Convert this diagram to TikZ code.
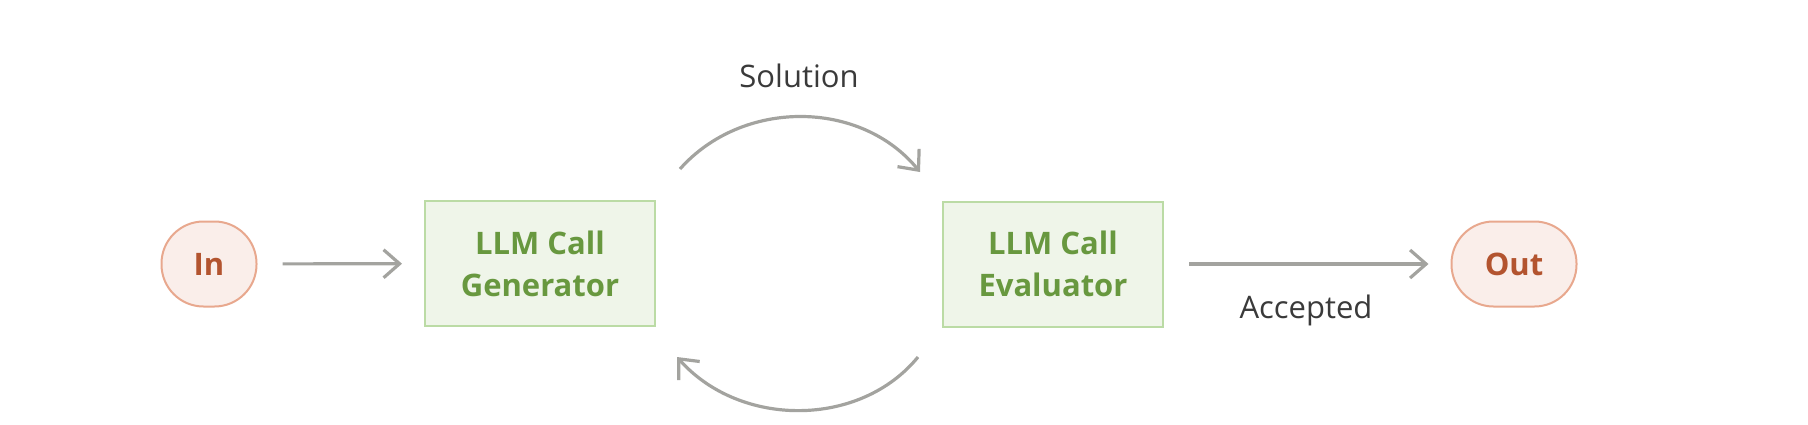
\documentclass[tikz,border=0pt]{standalone}
\usepackage{fontspec}
\setmainfont{Open Sans}
\usetikzlibrary{arrows.meta}

\definecolor{arrowgray}{HTML}{A3A39F}
\definecolor{labeltext}{HTML}{3A3A3A}
\definecolor{termfill}{HTML}{FAEEEA}
\definecolor{termline}{HTML}{E8A88E}
\definecolor{termtext}{HTML}{B3542F}
\definecolor{llmfill}{HTML}{EFF5E9}
\definecolor{llmline}{HTML}{BBDBA5}
\definecolor{llmtext}{HTML}{68983F}

\begin{document}
\begin{tikzpicture}[x=0.5pt,y=-0.5pt,
	term/.style={draw=termline,fill=termfill,text=termtext,line width=1pt,rounded corners=21pt,minimum height=42.5pt,font=\bfseries\fontsize{15.5}{21}\selectfont},
	llm/.style={draw=llmline,fill=llmfill,text=llmtext,line width=1pt,inner xsep=0pt,minimum height=62.5pt,align=center,font=\bfseries\fontsize{15.5}{21}\selectfont},
	flow/.style={draw=arrowgray,line width=1.6pt,-{Straight Barb[length=8pt,width=14pt]}},
	gap/.style={shorten <=12.5pt,shorten >=11pt},
	lbl/.style={text=labeltext,anchor=base,font=\fontsize{15.5}{21}\selectfont}]
	\useasboundingbox (0,0) rectangle (1808,424);
	
	%nodes
	\node[term,minimum width=47.5pt] (in) at (209,264) {In};
	\node[llm,minimum width=115pt] (gen) at (540,263.5) {LLM Call\\Generator};
	\node[llm,minimum width=110pt] (eval) at (1053,264) {LLM Call\\Evaluator};
	\node[term,minimum width=62.5pt] (out) at (1514,264) {Out};
	
	%straight arrows
	\draw[flow,gap] (in) -- (gen);
	\draw[flow,gap] (eval) -- (out);
	\node[lbl] (accepted) at (1306,318) {Accepted};
	
	%loop between generator and evaluator
	\coordinate (solA) at (680,169);
	\coordinate (solB) at (920,172);
	\coordinate (fbA) at (918,357);
	\coordinate (fbB) at (677,357);
	\draw[flow] (solA) .. controls (742,99) and (860,99) .. (solB);
	\draw[flow] (fbA) .. controls (860,428) and (740,428) .. (fbB);
	\node[lbl] (solution) at (799,87) {Solution};
\end{tikzpicture}
\end{document}
